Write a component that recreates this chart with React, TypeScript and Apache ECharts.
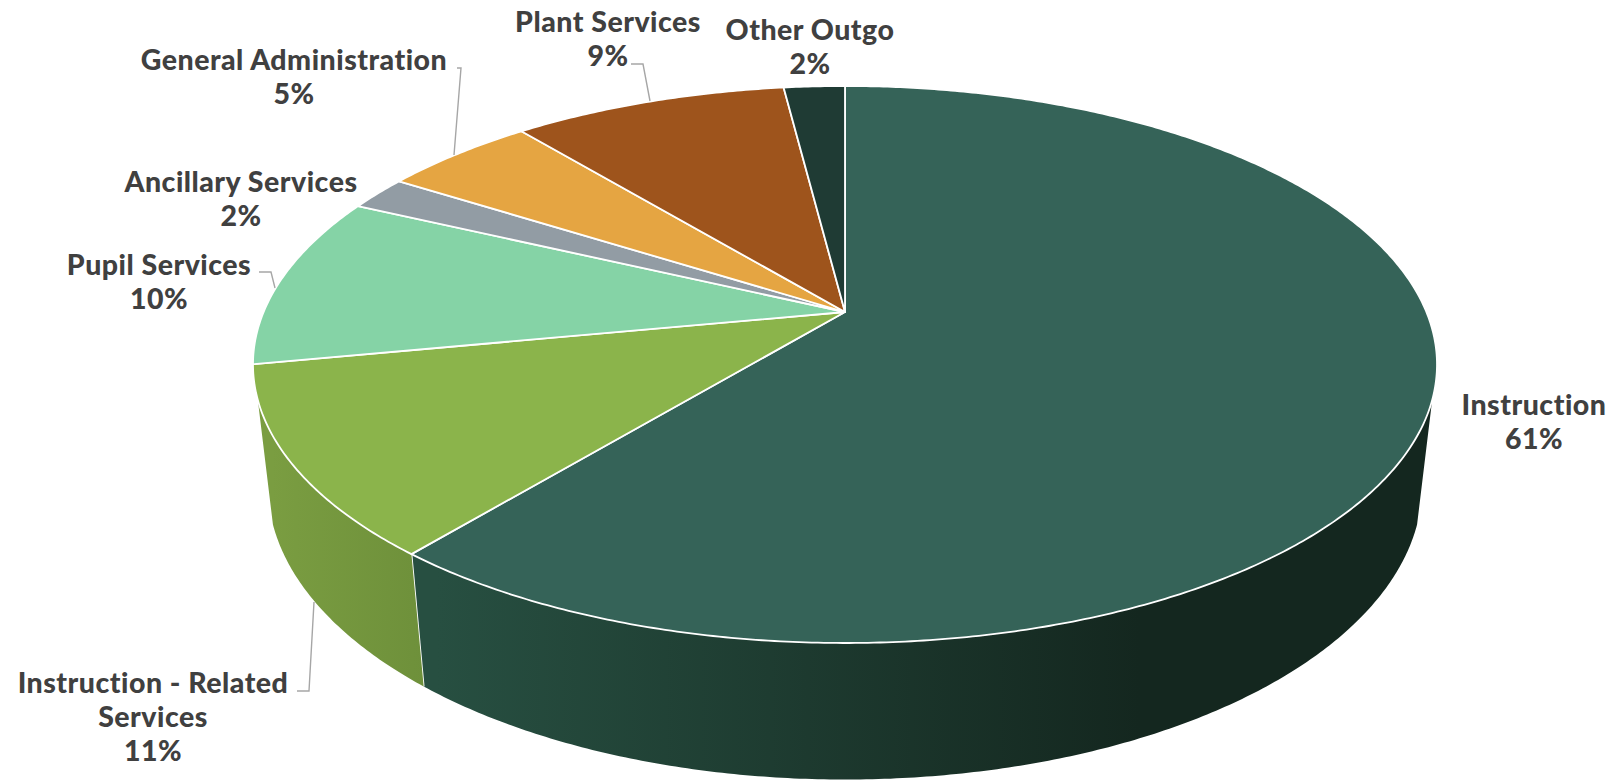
import React, { useEffect, useRef } from "react";
import * as echarts from "echarts";

// Share of expenditures by function, clockwise from twelve o'clock.
const categories = [
  "Instruction",
  "Instruction - Related Services",
  "Pupil Services",
  "Ancillary Services",
  "General Administration",
  "Plant Services",
  "Other Outgo",
];
const shares = [61, 11, 10, 2, 5, 9, 2];
const topColors = ["#356358", "#8bb44b", "#85d3a6", "#929ca4", "#e5a542", "#9e541c", "#1f3b34"];

// Side-wall shading, left to right across the page.
const wallStops = [
  { from: 437, to: 1140, left: "#274f41", right: "#14271f" },
  { from: 272, to: 437, left: "#7a9d41", right: "#6d8f3a" },
];

// Perspective of the disc on the page.
const CX = 845;
const APEX_Y = 312;
const SCALE_X = 581.4;
const SCALE_Y = 268.6;
const TILT = 0.1885;
const DEPTH_Y = 122.4;
const DEPTH_W = 0.0248;
const WALL_START = 108;
const WALL_END = 252;

const project = (deg: number, depth: number): [number, number] => {
  const a = (deg * Math.PI) / 180;
  const u = Math.sin(a);
  const v = -Math.cos(a);
  const w = 1 - TILT * v + DEPTH_W * depth;
  return [CX + (SCALE_X * u) / w, APEX_Y + (SCALE_Y * v + DEPTH_Y * depth) / w];
};

const total = shares.reduce((s, v) => s + v, 0);
const sliceRange = (index: number): [number, number] => {
  const before = shares.slice(0, index).reduce((s, v) => s + v, 0);
  return [(before / total) * 360, ((before + shares[index]) / total) * 360];
};

const arcPoints = (from: number, to: number, depth: number) => {
  const pts: [number, number][] = [];
  const steps = Math.max(2, Math.ceil((to - from) / 0.5));
  for (let i = 0; i <= steps; i++) pts.push(project(from + ((to - from) * i) / steps, depth));
  return pts;
};

// Label anchor and leader line for each category.
const labelSpots = [
  { x: 1534, y: 421, leader: null },
  { x: 153, y: 716, leader: [[297, 691], [309, 691], [314, 602]] },
  { x: 159, y: 281, leader: [[259, 272], [271, 272], [275, 288]] },
  { x: 241, y: 198, leader: null },
  { x: 294, y: 76, leader: [[457, 68], [461, 68], [454, 155]] },
  { x: 608, y: 38, leader: [[631, 64], [643, 64], [650, 101]] },
  { x: 810, y: 46, leader: null },
];
const labelWraps: Record<string, string> = {
  "Instruction - Related Services": "Instruction - Related\nServices",
};

const renderWall = (params: any, api: any) => {
  const i = params.dataIndex;
  if (!api.value(0)) return null;
  const [a, b] = sliceRange(i);
  const from = Math.max(a, WALL_START);
  const to = Math.min(b, WALL_END);
  if (to <= from) return null;
  const top = arcPoints(from, to, 0);
  const bottom = arcPoints(from, to, 1).reverse();
  const stop = wallStops[i] || wallStops[0];
  const children: any[] = [
    {
      type: "polygon",
      shape: { points: top.concat(bottom) },
      style: {
        fill: new echarts.graphic.LinearGradient(
          stop.from, 0, stop.to, 0,
          [{ offset: 0, color: stop.left }, { offset: 1, color: stop.right }],
          true
        ),
      },
    },
  ];
  if (b < WALL_END) {
    const [x1, y1] = project(b, 0);
    const [x2, y2] = project(b, 1);
    children.push({
      type: "line",
      shape: { x1, y1, x2, y2 },
      style: { stroke: "#ffffff", lineWidth: 1.8 },
    });
  }
  return { type: "group", children };
};

const renderTop = (params: any, api: any) => {
  const i = params.dataIndex;
  if (!api.value(0)) return null;
  const [a, b] = sliceRange(i);
  return {
    type: "polygon",
    shape: { points: [[CX, APEX_Y], ...arcPoints(a, b, 0)] },
    style: { fill: topColors[i], stroke: "#ffffff", lineWidth: 1.8, lineJoin: "round" },
  };
};

const renderLabel = (params: any, api: any) => {
  const i = params.dataIndex;
  const spot = labelSpots[i];
  const name = categories[i];
  const children: any[] = [
    {
      type: "text",
      style: {
        text: `${labelWraps[name] || name}\n${api.value(0)}%`,
        x: spot.x,
        y: spot.y,
        align: "center",
        verticalAlign: "middle",
        fontFamily: "Lato",
        fontWeight: 900,
        fontSize: 28.5,
        lineHeight: 34,
        fill: "#404040",
      },
    },
  ];
  if (spot.leader) {
    children.push({
      type: "polyline",
      shape: { points: spot.leader },
      style: { stroke: "#a6a6a6", lineWidth: 1.4, fill: "none" },
    });
  }
  return { type: "group", children };
};

export default function App() {
  const ref = useRef<HTMLDivElement>(null);
  useEffect(() => {
    document.body.style.margin = "0";
    document.body.style.background = "#ffffff";
    const chart = echarts.init(ref.current!, undefined, { renderer: "svg" });
    const data = shares.map((v, i) => ({ name: categories[i], value: [v] }));
    chart.setOption({
      animation: false,
      backgroundColor: "#ffffff",
      series: [
        { type: "custom", coordinateSystem: "none", renderItem: renderWall, data, z: 1, silent: true },
        { type: "custom", coordinateSystem: "none", renderItem: renderTop, data, z: 2, silent: true },
        { type: "custom", coordinateSystem: "none", renderItem: renderLabel, data, z: 3, silent: true },
      ],
    });
    return () => chart.dispose();
  }, []);
  return (
    <div
      ref={ref}
      style={{ width: 1622, height: 781, letterSpacing: "0.5px", fontVariantLigatures: "none" }}
    />
  );
}
